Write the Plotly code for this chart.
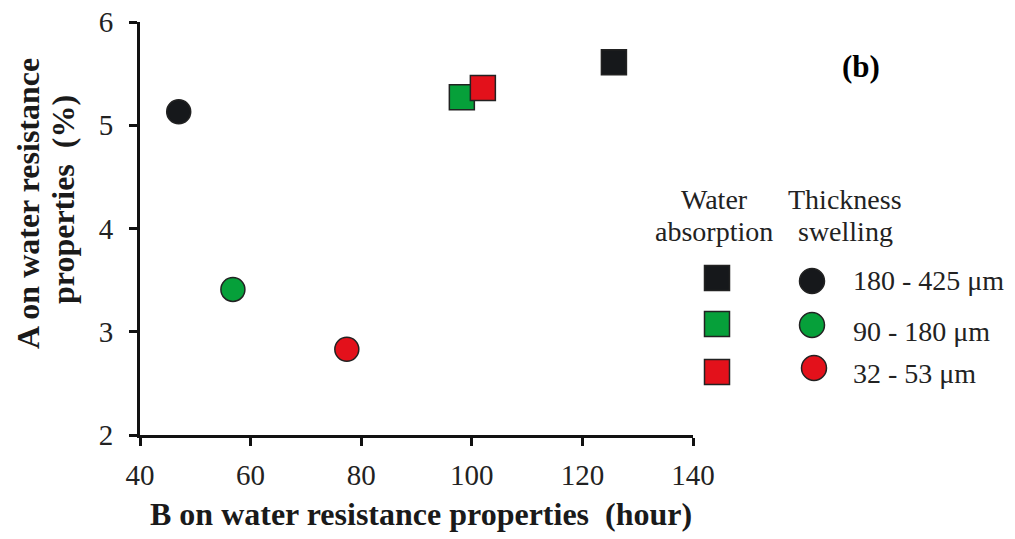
import plotly.graph_objects as go

# Particle size fractions and their colours
sizes = ["180 - 425 \u03bcm", "90 - 180 \u03bcm", "32 - 53 \u03bcm"]
colors = ["#16181b", "#06a03a", "#e3111b"]

# Water absorption (squares)
wa_b = [125.7, 98.2, 102.0]
wa_a = [5.61, 5.27, 5.36]

# Thickness swelling (circles)
ts_b = [47.0, 56.8, 77.4]
ts_a = [5.13, 3.41, 2.83]

FONT = "Liberation Serif, Times New Roman, serif"
W, H = 1015, 539


def px(x):
    return x / W


def py(y):
    return 1 - y / H


fig = go.Figure()

edge = dict(color="#222", width=1.5)
fig.add_trace(go.Scatter(
    x=wa_b, y=wa_a, mode="markers", showlegend=False,
    marker=dict(symbol="square", size=25, color=colors, line=edge)))
fig.add_trace(go.Scatter(
    x=ts_b, y=ts_a, mode="markers", showlegend=False,
    marker=dict(symbol="circle", size=24, color=colors, line=edge)))

# Hand-built legend on a full-page pixel-space axis pair
fig.add_trace(go.Scatter(
    x=[717, 717, 717], y=[278, 324, 372], xaxis="x2", yaxis="y2",
    mode="markers", showlegend=False, hoverinfo="skip",
    marker=dict(symbol="square", size=25, color=colors, line=edge)))
fig.add_trace(go.Scatter(
    x=[812, 812, 814], y=[281, 325, 368], xaxis="x2", yaxis="y2",
    mode="markers", showlegend=False, hoverinfo="skip",
    marker=dict(symbol="circle", size=25, color=colors, line=edge)))

txt = dict(family=FONT, size=28, color="#222")
bold = dict(family=FONT, size=32, color="#1a1a1a")
annotations = [
    dict(x=px(714), y=py(199), text="Water", font=txt),
    dict(x=px(714), y=py(232), text="absorption", font=txt),
    dict(x=px(845), y=py(199), text="Thickness", font=txt),
    dict(x=px(845), y=py(232), text="swelling", font=txt),
    dict(x=px(861), y=py(66), text="<b>(b)</b>",
         font=dict(family=FONT, size=31, color="#000")),
    dict(x=px(421), y=py(514),
         text="<b>B on water resistance properties  (hour)</b>", font=bold),
    dict(x=px(28), y=py(204), textangle=-90,
         text="<b>A on water resistance</b>", font=bold),
    dict(x=px(63), y=py(200), textangle=-90,
         text="<b>properties  (%)</b>", font=bold),
]
for a in annotations:
    a.update(xanchor="center")
for s, y in zip(sizes, [280, 331, 373]):
    annotations.append(dict(x=px(851), y=py(y), text=s, xanchor="left",
                            font=txt))
for a in annotations:
    a.update(xref="paper", yref="paper", showarrow=False, yanchor="middle")

axis_style = dict(showline=True, linewidth=3, linecolor="#111",
                  ticks="outside", ticklen=8, tickwidth=3, tickcolor="#111",
                  showgrid=False, zeroline=False, automargin=False,
                  tickfont=dict(family=FONT, size=29, color="#222"))

fig.update_layout(
    template="none",
    width=W, height=H,
    margin=dict(l=0, r=0, t=0, b=0, pad=0),
    paper_bgcolor="white", plot_bgcolor="rgba(0,0,0,0)",
    font=dict(family=FONT, color="#222"),
    xaxis=dict(domain=[140 / W, 693 / W], range=[40, 140], anchor="y",
               tickvals=[40, 60, 80, 100, 120, 140], ticklabelstandoff=4,
               **axis_style),
    yaxis=dict(domain=[1 - 435 / H, 1 - 22 / H], range=[2, 6], anchor="x",
               tickvals=[2, 3, 4, 5, 6], ticklabelstandoff=10,
               **axis_style),
    xaxis2=dict(domain=[0, 1], range=[0, W], anchor="y2", visible=False),
    yaxis2=dict(domain=[0, 1], range=[H, 0], anchor="x2", visible=False),
    annotations=annotations,
)

fig.write_html("out.html")
